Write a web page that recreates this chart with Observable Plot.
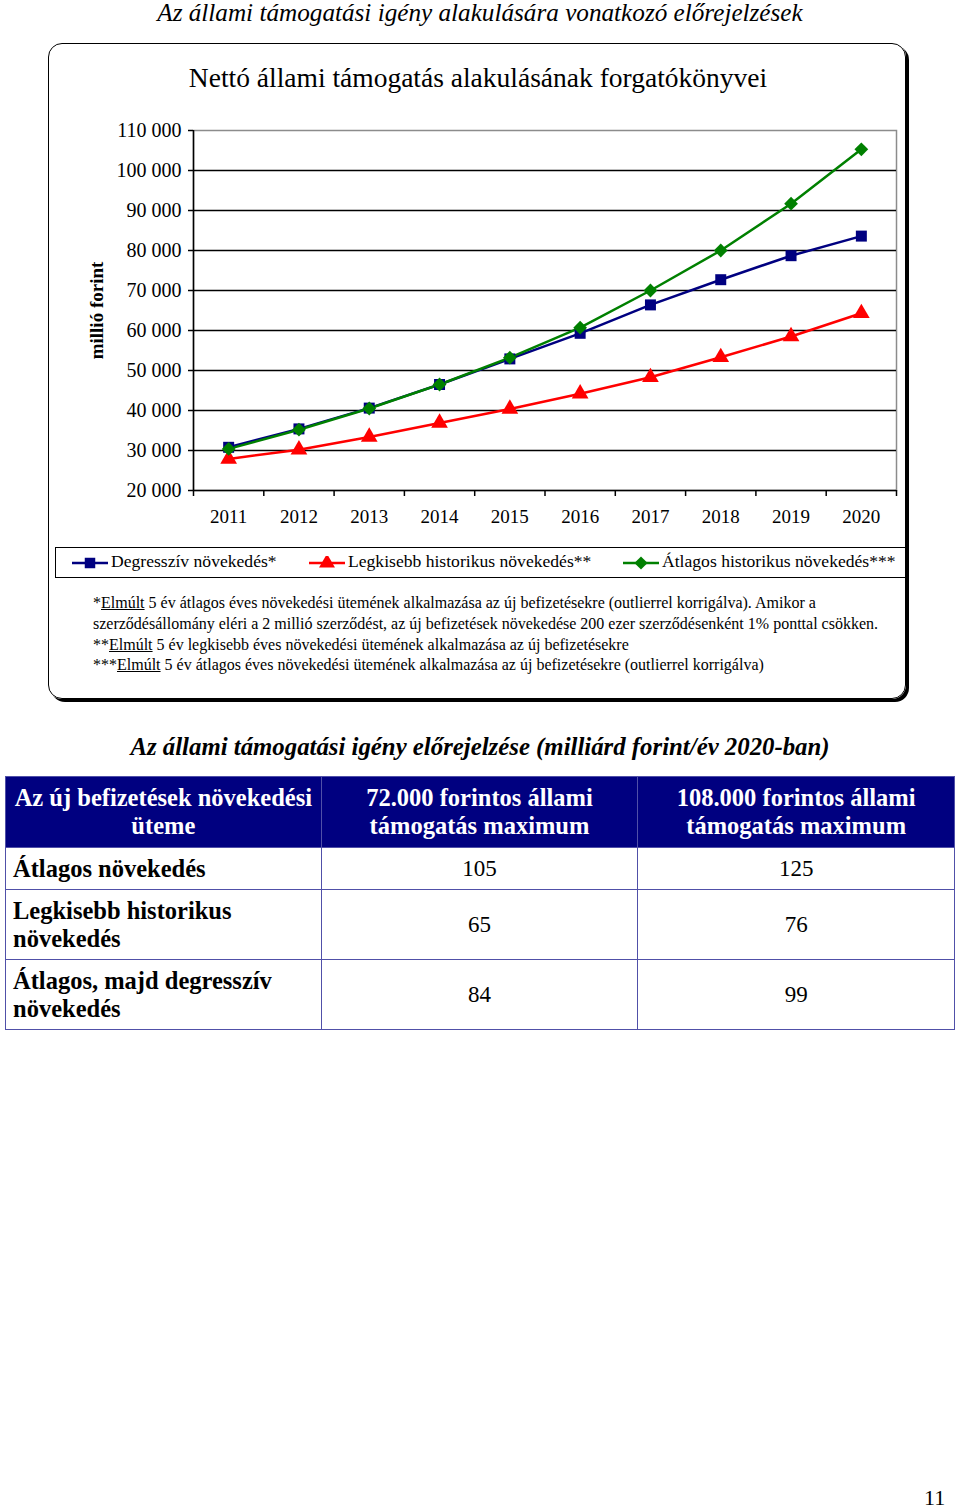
<!DOCTYPE html>
<html><head><meta charset="utf-8">
<script src="https://cdn.jsdelivr.net/npm/d3@7"></script>
<script src="https://cdn.jsdelivr.net/npm/@observablehq/plot@0.6"></script>
<style>
body{margin:0;background:#fff;}
#page{position:relative;width:960px;height:1510px;font-family:"Liberation Serif","Times New Roman",serif;color:#000;overflow:hidden;}
.abs{position:absolute;}
#title{left:0;width:960px;top:0px;line-height:26px;text-align:center;font-style:italic;font-size:25.2px;}
#box{left:48px;top:43px;width:856px;height:654px;border:1.5px solid #000;border-radius:14px;box-shadow:3px 3px 0 #000;}
#ctitle{left:48px;width:860px;top:62px;text-align:center;font-size:27.5px;}
#chart{left:60px;top:120px;}
#legend{left:55px;top:547px;width:849px;height:29px;border:1px solid #000;font-size:17.6px;}
.li{position:absolute;top:3px;white-space:nowrap;}
.li svg{vertical-align:-3px;margin-right:2px;}
#notes{left:93px;top:593px;font-size:16px;line-height:20.8px;white-space:nowrap;}
#ttitle{left:0;width:960px;top:733px;text-align:center;font-style:italic;font-weight:bold;font-size:24.8px;}
#tbl{left:5px;top:776px;}
table{border-collapse:collapse;width:950px;font-size:23px;}
td,th{border:1px solid #5050a8;padding:0 8px;line-height:28px;}
th{background:#000080;color:#fff;font-weight:bold;height:70px;text-align:center;font-size:24.5px;}
td{height:41px;text-align:center;}
td.lab{text-align:left;font-weight:bold;font-size:24.5px;padding-left:7px;}
tr.tall td{height:69px;}
#pnum{left:924px;top:1485px;font-size:22px;}
</style></head>
<body><div id="page">
<div id="title" class="abs">Az állami támogatási igény alakulására vonatkozó előrejelzések</div>
<div id="box" class="abs"></div>
<div id="ctitle" class="abs">Nettó állami támogatás alakulásának forgatókönyvei</div>
<div id="chart" class="abs"></div>
<div id="legend" class="abs"></div>
<div id="notes" class="abs">
*<u>Elmúlt</u> 5 év átlagos éves növekedési ütemének alkalmazása az új befizetésekre (outlierrel korrigálva). Amikor a<br>
szerződésállomány eléri a 2 millió szerződést, az új befizetések növekedése 200 ezer szerződésenként 1% ponttal csökken.<br>
**<u>Elmúlt</u> 5 év legkisebb éves növekedési ütemének alkalmazása az új befizetésekre<br>
***<u>Elmúlt</u> 5 év átlagos éves növekedési ütemének alkalmazása az új befizetésekre (outlierrel korrigálva)
</div>
<div id="ttitle" class="abs">Az állami támogatási igény előrejelzése (milliárd forint/év 2020-ban)</div>
<div id="tbl" class="abs"></div>
<div id="pnum" class="abs">11</div>
</div>
<script>
// ---- data ----
const years = [2011, 2012, 2013, 2014, 2015, 2016, 2017, 2018, 2019, 2020];
const seriesNames = ["Degresszív növekedés*", "Legkisebb historikus növekedés**", "Átlagos historikus növekedés***"];
const degressziv = [30800, 35400, 40600, 46500, 52900, 59300, 66400, 72700, 78700, 83600];
const legkisebb = [27900, 30200, 33400, 36900, 40400, 44200, 48300, 53300, 58500, 64300];
const atlagos = [30400, 35200, 40500, 46500, 53200, 60700, 70000, 80000, 91700, 105300];
const seriesColors = ["#000080", "#ff0000", "#008000"];
const seriesSymbols = ["square", "triangle", "diamond2"];
const yTicks = [20000, 30000, 40000, 50000, 60000, 70000, 80000, 90000, 100000, 110000];
const yDomain = [20000, 110000];
const xBoundaries = [2010.5, 2011.5, 2012.5, 2013.5, 2014.5, 2015.5, 2016.5, 2017.5, 2018.5, 2019.5, 2020.5];
const yLabel = "millió forint";

const tableHeader = ["Az új befizetések növekedési üteme", "72.000 forintos állami támogatás maximum", "108.000 forintos állami támogatás maximum"];
const tableRows = ["Átlagos növekedés", "Legkisebb historikus növekedés", "Átlagos, majd degresszív növekedés"];
const col72 = [105, 65, 84];
const col108 = [125, 76, 99];

// ---- chart ----
const valuesBySeries = [degressziv, legkisebb, atlagos];
const data = [];
valuesBySeries.forEach((vals, s) => vals.forEach((v, i) => data.push({series: seriesNames[s], year: years[i], value: v})));
const fmt = d => d3.format(",")(d).replace(/,/g, " ");
const gridVals = yTicks.filter(v => v > yDomain[0] && v < yDomain[1]);

const chart = Plot.plot({
  width: 845, height: 420,
  marginLeft: 133, marginRight: 9, marginTop: 10, marginBottom: 50,
  style: {fontFamily: "'Liberation Serif', serif", fontSize: "19.5px", background: "transparent", color: "#000"},
  x: {type: "linear", domain: [xBoundaries[0], xBoundaries[xBoundaries.length - 1]]},
  y: {domain: yDomain},
  color: {domain: seriesNames, range: seriesColors},
  symbol: {domain: seriesNames, range: seriesSymbols},
  marks: [
    Plot.frame({stroke: "#8c8c8c", strokeWidth: 1.5}),
    Plot.ruleY(gridVals, {stroke: "#000", strokeWidth: 1.3}),
    Plot.ruleY([yDomain[0]], {stroke: "#000", strokeWidth: 1.5}),
    Plot.ruleX([xBoundaries[0]], {stroke: "#000", strokeWidth: 1.5}),
    Plot.axisY({ticks: yTicks, tickSize: 5, tickPadding: 7, tickFormat: fmt, label: null, stroke: "#000", strokeWidth: 1.5, fontSize: 20}),
    Plot.axisX({ticks: xBoundaries, tickSize: 6, tickFormat: () => "", label: null, stroke: "#000", strokeWidth: 1.5}),
    Plot.axisX({ticks: years, tickSize: 0, tickPadding: 19, tickFormat: d => String(d), label: null, fontSize: 19}),
    Plot.text([yLabel], {frameAnchor: "left", textAnchor: "middle", rotate: -90, dx: -97, fontWeight: "bold", fontSize: 19}),
    Plot.line(data, {x: "year", y: "value", z: "series", stroke: "series", strokeWidth: 2.5}),
    Plot.dot(data, {x: "year", y: "value", fill: "series", symbol: "series", r: 6.2, stroke: "none"})
  ]
});
document.getElementById("chart").appendChild(chart);

// ---- legend ----
const legendX = [15, 252, 566];
const legend = document.getElementById("legend");
const symPath = {square: d3.symbolSquare, triangle: d3.symbolTriangle, diamond2: d3.symbolDiamond2};
seriesNames.forEach((name, i) => {
  const span = document.createElement("span");
  span.className = "li";
  span.style.left = legendX[i] + "px";
  const p = d3.symbol(symPath[seriesSymbols[i]], 110)();
  span.innerHTML = `<svg width="38" height="14" viewBox="0 0 38 14"><line x1="1" x2="37" y1="7" y2="7" stroke="${seriesColors[i]}" stroke-width="2.5"/><path transform="translate(19,7)" d="${p}" fill="${seriesColors[i]}"/></svg>${name}`;
  legend.appendChild(span);
});

// ---- table ----
let html = "<table><colgroup><col style='width:316px'><col style='width:317px'><col style='width:317px'></colgroup>";
html += "<tr>" + tableHeader.map(h => `<th>${h}</th>`).join("") + "</tr>";
tableRows.forEach((r, i) => {
  html += `<tr class="${i > 0 ? "tall" : ""}"><td class="lab">${r}</td><td>${col72[i]}</td><td>${col108[i]}</td></tr>`;
});
html += "</table>";
document.getElementById("tbl").innerHTML = html;
</script>
</body></html>
